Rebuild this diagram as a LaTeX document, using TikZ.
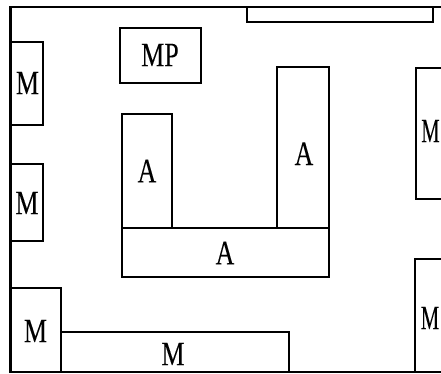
\documentclass[tikz,border=0pt]{standalone}
\usepackage{fontspec}
\setmainfont[FakeBold=0.12]{Liberation Serif}
\newcommand{\tall}[1]{\scalebox{1.04}[1.37]{#1}}
\newcommand{\tallnarrow}[1]{\scalebox{0.84}[1.37]{#1}}
\tikzset{
  x=1pt,y=-1pt,
  room/.style={draw=black,line width=2.3pt,fill=none},
  frame/.style={draw=black,line width=2.6pt},
  lab/.style={inner sep=0pt,outer sep=0pt,text=black,font=\fontsize{25}{25}\selectfont}
}
\begin{document}
\begin{tikzpicture}
\path[use as bounding box,fill=white] (0,0) rectangle (441,374);
\clip (0,0) rectangle (441,374);
\coordinate (tr) at (445,7);
\coordinate (tl) at (10.5,7);
\coordinate (bl) at (10.5,372);
\coordinate (br) at (445,372);
\draw[frame] (tr) -- (tl) -- (bl) -- (br);
\draw[room] (247,7) rectangle (433,22);
\draw[room] (120,28) rectangle (201,83);
\draw[room] (11,42) rectangle (43,125);
\draw[room] (11,164) rectangle (43,241);
\draw[room] (11,288) rectangle (61,372);
\draw[room] (61,332) rectangle (289,372);
\draw[room] (122,114) rectangle (172,228);
\draw[room] (277,67) rectangle (329,228);
\draw[room] (122,228) rectangle (329,277);
\draw[room] (450,68) -- (416,68) -- (416,199) -- (450,199);
\draw[room] (450,259) -- (415,259) -- (415,372);
\node[lab] (mp) at (160,55) {\tall{MP}};
\node[lab] (m1) at (27.5,83) {\tall{M}};
\node[lab] (m2) at (27,203) {\tall{M}};
\node[lab] (m3) at (35.5,331) {\tall{M}};
\node[lab] (m4) at (173,354) {\tall{M}};
\node[lab] (a1) at (147,171) {\tall{A}};
\node[lab] (a2) at (304,153.7) {\tall{A}};
\node[lab] (a3) at (225,253) {\tall{A}};
\node[lab] (m5) at (430.5,131) {\tallnarrow{M}};
\node[lab] (m6) at (430,318) {\tallnarrow{M}};
\end{tikzpicture}
\end{document}
